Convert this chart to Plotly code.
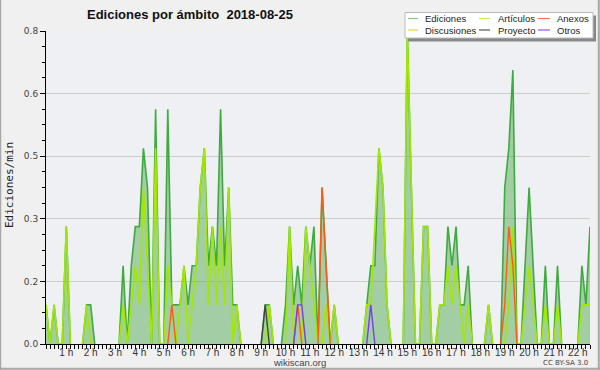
import plotly.graph_objects as go

# ---------------- data (edits per minute, 10-minute bins, first bin 00:10) -------------
BIN_START_HOUR = 1 / 6
BIN_HOURS = 1 / 6

ediciones = [
    0.1, 0, 0.1, 0, 0, 0.3,
    0, 0, 0, 0, 0.1, 0.1,
    0, 0, 0, 0, 0, 0,
    0, 0.2, 0, 0.2, 0.3, 0.3,
    0.5, 0.4, 0, 0.6, 0, 0,
    0.6, 0.1, 0.1, 0.1, 0.2, 0.1,
    0.2, 0.2, 0.4, 0.5, 0.2, 0.3,
    0.2, 0.6, 0.2, 0.4, 0.1, 0.1,
    0, 0, 0, 0, 0, 0,
    0.1, 0.1, 0, 0, 0, 0.1,
    0.3, 0.1, 0.2, 0.1, 0.3, 0.2,
    0.3, 0, 0.4, 0.2, 0, 0.1,
    0, 0, 0, 0, 0, 0,
    0, 0.1, 0.2, 0.2, 0.5, 0.4,
    0.1, 0, 0, 0, 0, 0.8,
    0.4, 0, 0, 0.3, 0.3, 0,
    0, 0.1, 0.1, 0.3, 0.2, 0.3,
    0.1, 0.1, 0.2, 0, 0, 0,
    0, 0.1, 0, 0, 0, 0.4,
    0.5, 0.7, 0, 0, 0.2, 0.4,
    0.2, 0, 0, 0.2, 0, 0,
    0.2, 0, 0, 0, 0, 0,
    0.2, 0.1, 0.3,
]

articulos = [
    0.1, 0, 0.1, 0, 0, 0.3,
    0, 0, 0, 0, 0.1, 0,
    0, 0, 0, 0, 0, 0,
    0, 0.1, 0, 0.1, 0.2, 0.1,
    0.4, 0.2, 0, 0.5, 0, 0,
    0.2, 0.1, 0, 0.1, 0.2, 0,
    0.1, 0.2, 0.4, 0.5, 0.1, 0.3,
    0.1, 0.3, 0.1, 0.4, 0, 0.1,
    0, 0, 0, 0, 0, 0,
    0, 0.1, 0, 0, 0, 0,
    0.3, 0, 0, 0, 0.3, 0.2,
    0.1, 0, 0, 0.1, 0, 0.1,
    0, 0, 0, 0, 0, 0,
    0, 0.1, 0.1, 0.3, 0.5, 0.4,
    0.1, 0, 0, 0, 0, 0.8,
    0.4, 0, 0, 0.3, 0.3, 0,
    0, 0.1, 0.1, 0.2, 0.1, 0.2,
    0.1, 0, 0.1, 0, 0, 0,
    0, 0.1, 0, 0, 0, 0,
    0.1, 0.3, 0, 0, 0.1, 0.2,
    0.1, 0, 0, 0.1, 0, 0,
    0.1, 0, 0, 0, 0, 0,
    0.1, 0.1, 0.1,
]

anexos = [0] * 135
for k, v in {31: 0.1, 62: 0.1, 68: 0.4, 69: 0.2, 113: 0.1, 114: 0.3, 115: 0.2}.items():
    anexos[k] = v

otros = [0] * 135
for k, v in {62: 0.1, 63: 0.1, 80: 0.1}.items():
    otros[k] = v

proyecto = [0] * 135
proyecto[54] = 0.1

discusiones = [0] * 135

hour_ticks = list(range(1, 23))
hour_labels = [f"{h} h" for h in hour_ticks]
y_ticks = [0, 0.16, 0.32, 0.48, 0.64, 0.8]
y_labels = ["0.0", "0.2", "0.3", "0.5", "0.6", "0.8"]

# ---------------------------------------------------------------------------------------
n = len(ediciones)
hours = [BIN_START_HOUR + k * BIN_HOURS for k in range(n)]


def visible(vals):
    out = []
    for k, v in enumerate(vals):
        near = v > 0 or (k > 0 and vals[k - 1] > 0) or (k < len(vals) - 1 and vals[k + 1] > 0)
        out.append(v if near else None)
    return out


W, H = 600, 370
ML, MR, MT, MB = 46, 10, 31, 26
PW, PH = W - ML - MR, H - MT - MB
SANS = "Liberation Sans, Arial, sans-serif"


def px(x):
    return (x - ML) / PW


def py(y):
    return (H - MB - y) / PH


fig = go.Figure()
fig.add_trace(go.Scatter(x=hours, y=visible(ediciones), mode="lines", fill="tozeroy",
                         fillcolor="rgba(70,165,70,0.45)",
                         line=dict(color="#3faa3f", width=1.6), name="Ediciones"))
fig.add_trace(go.Scatter(x=hours, y=visible(articulos), mode="lines",
                         line=dict(color="#a2e800", width=1.6), name="Artículos"))
fig.add_trace(go.Scatter(x=hours, y=visible(discusiones), mode="lines",
                         line=dict(color="#ffcc44", width=1.4), name="Discusiones"))
fig.add_trace(go.Scatter(x=hours, y=visible(proyecto), mode="lines",
                         line=dict(color="#444444", width=1.4), name="Proyecto"))
fig.add_trace(go.Scatter(x=hours, y=visible(anexos), mode="lines",
                         line=dict(color="#ff5a14", width=1.4), name="Anexos"))
fig.add_trace(go.Scatter(x=hours, y=visible(otros), mode="lines",
                         line=dict(color="#7a3cf0", width=1.4), name="Otros"))

fig.update_layout(
    width=W, height=H, margin=dict(l=ML, r=MR, t=MT, b=MB, autoexpand=False),
    paper_bgcolor="#f0f0f0", plot_bgcolor="#eef0f3", showlegend=False,
    font=dict(family=SANS, size=9, color="#333"),
)
fig.update_xaxes(
    range=[hours[0], hours[-1]], tickmode="array", tickvals=hour_ticks, ticktext=hour_labels,
    ticks="outside", ticklen=4, tickwidth=1, tickcolor="black", automargin=False,
    ticklabelstandoff=-5,
    showline=True, linecolor="black", linewidth=1, showgrid=False, zeroline=False,
    tickfont=dict(family=SANS, size=10, color="#333"),
    minor=dict(tickmode="linear", tick0=0, dtick=1 / 6, ticks="outside", ticklen=4,
               tickcolor="black", showgrid=False),
)
fig.update_yaxes(
    range=[0, 0.8], tickmode="array", tickvals=y_ticks, ticktext=y_labels,
    ticks="outside", ticklen=5, tickcolor="black", automargin=False,
    showline=True, linecolor="black", linewidth=1,
    showgrid=True, gridcolor="#cdcdcd", gridwidth=1, zeroline=False,
    tickfont=dict(family="DejaVu Sans", size=9, color="#444"),
    minor=dict(tickmode="linear", tick0=0, dtick=0.04, ticks="outside", ticklen=3,
               tickcolor="black", showgrid=False),
)

shapes = []
annotations = []

# y axis title
annotations.append(dict(x=px(10), y=py(185), xref="paper", yref="paper", showarrow=False,
                        text="Ediciones/min", textangle=-90, xanchor="center", yanchor="middle",
                        font=dict(family="DejaVu Sans Mono", size=11, color="#222")))

# title
annotations.append(dict(x=px(85), y=py(14), xref="paper", yref="paper", showarrow=False,
                        text="<b>Ediciones por ámbito \u00a02018-08-25</b>",
                        font=dict(family=SANS, size=13, color="#111"),
                        xanchor="left", yanchor="middle"))

# legend box
shapes.append(dict(type="rect", xref="paper", yref="paper", x0=px(408), x1=px(596),
                   y0=py(41.5), y1=py(15.5), fillcolor="#888888", line=dict(width=0)))
shapes.append(dict(type="rect", xref="paper", yref="paper", x0=px(405), x1=px(593),
                   y0=py(38), y1=py(12.5), fillcolor="white", line=dict(color="#bbbbbb", width=1)))
legend_items = [
    ("Ediciones", "#80cc80", 408, 418, 423, 18.5),
    ("Artículos", "#c8ee55", 479, 490, 496, 18.5),
    ("Anexos", "#ff7744", 538, 550, 555, 18.5),
    ("Discusiones", "#ffcc44", 408, 418, 423, 30),
    ("Proyecto", "#555555", 479, 490, 496, 30),
    ("Otros", "#9955ee", 538, 550, 555, 30),
]
for name, col, lx0, lx1, tx, ty in legend_items:
    shapes.append(dict(type="line", xref="paper", yref="paper", x0=px(lx0), x1=px(lx1),
                       y0=py(ty), y1=py(ty), line=dict(color=col, width=1.2)))
    annotations.append(dict(x=px(tx), y=py(ty), xref="paper", yref="paper", showarrow=False,
                            text=name, xanchor="left", yanchor="middle",
                            font=dict(family=SANS, size=9.5, color="#222")))

# footer
annotations.append(dict(x=px(299), y=py(362.5), xref="paper", yref="paper", showarrow=False,
                        text="wikiscan.org", xanchor="center", yanchor="middle",
                        font=dict(family=SANS, size=9.5, color="#444")))
annotations.append(dict(x=px(590), y=py(362.5), xref="paper", yref="paper", showarrow=False,
                        text="CC BY-SA 3.0", xanchor="right", yanchor="middle",
                        font=dict(family="DejaVu Sans", size=7, color="#444")))

# outer frame
frame = "#a8a8a8"
shapes.append(dict(type="line", xref="paper", yref="paper", x0=px(0.5), x1=px(0.5),
                   y0=py(0), y1=py(370), line=dict(color=frame, width=1.5)))
shapes.append(dict(type="line", xref="paper", yref="paper", x0=px(598.8), x1=px(598.8),
                   y0=py(0), y1=py(370), line=dict(color=frame, width=2)))
shapes.append(dict(type="line", xref="paper", yref="paper", x0=px(0), x1=px(600),
                   y0=py(368.8), y1=py(368.8), line=dict(color=frame, width=2)))

fig.update_layout(shapes=shapes, annotations=annotations)
fig.write_html("out.html", config={"displayModeBar": False},
               post_script="document.body.style.margin='0';"
                           "document.documentElement.style.overflow='hidden';")
